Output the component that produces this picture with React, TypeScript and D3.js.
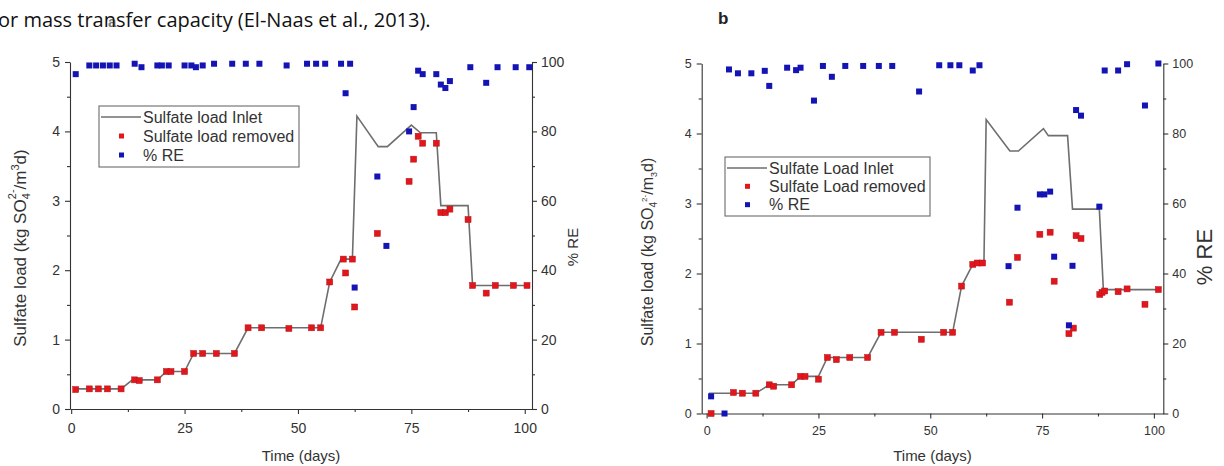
import React, { useEffect, useRef } from "react";
import * as d3 from "d3";

// shared ticks / labels
const xTicks = [0, 25, 50, 75, 100];
const xMinor = [12.5, 37.5, 62.5, 87.5];
const loadTicks = [0, 1, 2, 3, 4, 5];
const loadMinor = [0.5, 1.5, 2.5, 3.5, 4.5];
const reTicks = [0, 20, 40, 60, 80, 100];
const reMinor = [10, 30, 50, 70, 90];
const legendA = ["Sulfate load Inlet", "Sulfate load removed", "% RE"];
const legendB = ["Sulfate Load Inlet", "Sulfate Load removed", "% RE"];

// panel a
const aInletDays = [1, 11, 13.5, 19, 21, 25, 27, 36, 39, 55, 57, 59.5, 62, 63, 67.7, 69.7, 75, 77, 80.5, 81.5, 87.5, 88.5, 101];
const aInletLoad = [0.29, 0.29, 0.42, 0.42, 0.54, 0.54, 0.8, 0.8, 1.17, 1.17, 1.83, 2.16, 2.16, 4.22, 3.78, 3.78, 4.09, 3.98, 3.98, 2.93, 2.93, 1.78, 1.78];
const aRemovedDays = [1, 4, 6, 8, 11, 14, 15, 19, 21, 22, 25, 27, 29, 32, 36, 39, 42, 48, 53, 55, 57, 60, 60.5, 62, 62.5, 67.5, 74.5, 75.5, 76.5, 77.5, 80.5, 81.5, 82.5, 83.5, 87.5, 88.5, 91.5, 93.5, 97.5, 100.5];
const aRemovedLoad = [0.28, 0.29, 0.29, 0.29, 0.29, 0.42, 0.41, 0.42, 0.54, 0.54, 0.54, 0.8, 0.8, 0.8, 0.8, 1.17, 1.17, 1.16, 1.17, 1.17, 1.83, 2.16, 1.96, 2.16, 1.47, 2.53, 3.28, 3.6, 3.93, 3.83, 3.83, 2.83, 2.83, 2.88, 2.73, 1.78, 1.67, 1.78, 1.78, 1.78];
const aReDays = [1, 4, 5.5, 7, 8.5, 10, 14, 15.5, 19, 20, 21.5, 25, 26.5, 27.5, 29, 31.5, 35.5, 38.5, 41.5, 47.5, 52, 54, 56, 59.5, 61.5, 60.5, 62.5, 67.5, 69.5, 74.5, 75.5, 76.5, 77.5, 80.5, 81.5, 82.5, 83.5, 88, 91.5, 94, 98, 101];
const aReValues = [96.5, 99, 99, 99, 99, 99, 99.5, 98.5, 99, 99, 99, 99, 99, 98.5, 99, 99.5, 99.5, 99.5, 99.5, 99, 99.5, 99.5, 99.5, 99.5, 99.5, 91, 35, 67, 47, 80, 87, 97.5, 96.5, 96.5, 93.5, 92.5, 94.5, 98.5, 94, 98.5, 98.5, 98.5];

// panel b
const bInletDays = [0.5, 11, 14, 19, 21, 25, 27, 36, 39, 55, 57, 59.5, 62, 62.5, 67.8, 69.7, 75.3, 76.4, 80.7, 81.8, 87.8, 88.7, 100.6];
const bInletLoad = [0.29, 0.29, 0.41, 0.41, 0.53, 0.53, 0.8, 0.8, 1.16, 1.16, 1.82, 2.13, 2.15, 4.2, 3.75, 3.75, 4.07, 3.97, 3.97, 2.92, 2.92, 1.77, 1.77];
const bRemovedDays = [1, 6, 8, 11, 14, 15, 19, 21, 22, 25, 27, 29, 32, 36, 39, 42, 48, 53, 55, 57, 59.5, 60.5, 61.7, 67.7, 69.5, 74.5, 76.8, 77.7, 81, 82, 82.6, 83.7, 87.9, 88.4, 89, 92, 94, 98, 101];
const bRemovedLoad = [0, 0.3, 0.29, 0.29, 0.41, 0.39, 0.41, 0.53, 0.53, 0.49, 0.8, 0.77, 0.8, 0.8, 1.16, 1.16, 1.06, 1.16, 1.16, 1.82, 2.13, 2.15, 2.15, 1.59, 2.23, 2.56, 2.59, 1.89, 1.14, 1.22, 2.54, 2.5, 1.7, 1.73, 1.75, 1.74, 1.78, 1.56, 1.77];
const bReDays = [1, 4, 5, 7, 10, 13, 14, 18, 20, 21, 24, 26, 28, 31, 35, 38.5, 41.5, 47.5, 52, 54.5, 56.5, 59.5, 61, 67.5, 69.5, 74.5, 75.5, 76.8, 77.7, 81, 81.8, 82.6, 83.7, 87.8, 89, 92, 94, 98, 101];
const bReValues = [4.9, 0, 98.3, 97.2, 97.2, 97.9, 93.6, 98.8, 98.1, 98.8, 89.4, 99.3, 96.2, 99.3, 99.3, 99.3, 99.3, 92, 99.5, 99.5, 99.5, 98, 99.5, 42.1, 58.8, 62.6, 62.6, 63.4, 44.8, 25.2, 42.2, 86.7, 85.1, 59.1, 98, 98, 99.8, 88, 100];

const RED = "#e3161c";
const BLUE = "#1414b4";
const FONT = "'Liberation Sans', Arial, sans-serif";

const panels = [
  {
    id: "a",
    left: 70, right: 532, top: 62, bottom: 409, xDomain: [-0.26, 101.6],
    inlet: [aInletDays, aInletLoad], removed: [aRemovedDays, aRemovedLoad], re: [aReDays, aReValues],
    legend: legendA, legendBox: { x: 99, y: 106, w: 200, h: 61 },
    tickFont: 14, tickPad: 9, labelFont: 15, yLabelFont: 17, yLabelX: 26, yLabelY: 248,
    reFont: 15, reLabelX: 578, reLabelY: 247, subStacked: true,
  },
  {
    id: "b",
    left: 701.7, right: 1163.3, top: 63.5, bottom: 413.5, xDomain: [-1.1, 102.1],
    inlet: [bInletDays, bInletLoad], removed: [bRemovedDays, bRemovedLoad], re: [bReDays, bReValues],
    legend: legendB, legendBox: { x: 725, y: 157, w: 205, h: 59 },
    tickFont: 12.5, tickPad: 8, labelFont: 15, yLabelFont: 16, yLabelX: 653, yLabelY: 252,
    reFont: 22, reLabelX: 1212, reLabelY: 257, subStacked: false,
  },
];

const fmt = (d: any) => String(d);

function drawPanel(svg: any, p: any) {
  const g = svg.append("g");
  const x = d3.scaleLinear().domain(p.xDomain).range([p.left, p.right]);
  const y = d3.scaleLinear().domain([0, 5]).range([p.bottom, p.top]);
  const yr = d3.scaleLinear().domain([0, 100]).range([p.bottom, p.top]);

  const styleAxis = (a: any) => {
    a.selectAll("path, line").attr("stroke", "#333").attr("stroke-width", 1.1);
    a.selectAll("text").attr("fill", "#333").style("font-family", FONT).style("font-size", p.tickFont + "px");
  };

  // x axis
  g.append("g").attr("transform", `translate(0,${p.bottom})`)
    .call(d3.axisBottom(x).tickValues(xTicks).tickFormat(fmt).tickSize(5).tickSizeOuter(0).tickPadding(p.tickPad))
    .call(styleAxis);
  g.append("g").attr("transform", `translate(0,${p.bottom})`)
    .call(d3.axisBottom(x).tickValues(xMinor).tickSize(3).tickFormat(() => ""))
    .call((a: any) => a.select(".domain").remove())
    .call(styleAxis);

  // left axis
  g.append("g").attr("transform", `translate(${p.left},0)`)
    .call(d3.axisLeft(y).tickValues(loadTicks).tickFormat(fmt).tickSize(5).tickSizeOuter(0).tickPadding(5))
    .call(styleAxis);
  g.append("g").attr("transform", `translate(${p.left},0)`)
    .call(d3.axisLeft(y).tickValues(loadMinor).tickSize(3).tickFormat(() => ""))
    .call((a: any) => a.select(".domain").remove())
    .call(styleAxis);

  // right axis
  g.append("g").attr("transform", `translate(${p.right},0)`)
    .call(d3.axisRight(yr).tickValues(reTicks).tickFormat(fmt).tickSize(5).tickSizeOuter(0).tickPadding(4))
    .call(styleAxis);
  g.append("g").attr("transform", `translate(${p.right},0)`)
    .call(d3.axisRight(yr).tickValues(reMinor).tickSize(3).tickFormat(() => ""))
    .call((a: any) => a.select(".domain").remove())
    .call(styleAxis);

  // axis titles
  g.append("text").attr("x", (p.left + p.right) / 2).attr("y", 461)
    .attr("text-anchor", "middle").style("font-family", FONT).style("font-size", p.labelFont + "px")
    .attr("fill", "#333").text("Time (days)");

  const yl = g.append("text")
    .attr("transform", `translate(${p.yLabelX},${p.yLabelY}) rotate(-90)`)
    .attr("text-anchor", "middle").style("font-family", FONT).style("font-size", p.yLabelFont + "px")
    .attr("fill", "#333");
  yl.append("tspan").text("Sulfate load (kg SO");
  if (p.subStacked) {
    yl.append("tspan").attr("dy", 4).style("font-size", "11px").text("4");
    yl.append("tspan").attr("dy", -14).attr("dx", -6).style("font-size", "11px").text("2-");
    yl.append("tspan").attr("dy", 10).text("/m");
    yl.append("tspan").attr("dy", -7).style("font-size", "11px").text("3");
    yl.append("tspan").attr("dy", 7).text("d)");
  } else {
    yl.append("tspan").attr("dy", 4).style("font-size", "10px").text("4");
    yl.append("tspan").attr("dy", -10).style("font-size", "8px").text("2-");
    yl.append("tspan").attr("dy", 6).text("/m");
    yl.append("tspan").attr("dy", 4).style("font-size", "9px").text("3");
    yl.append("tspan").attr("dy", -4).text("d)");
  }

  g.append("text")
    .attr("transform", `translate(${p.reLabelX},${p.reLabelY}) rotate(-90)`)
    .attr("text-anchor", "middle").style("font-family", FONT).style("font-size", p.reFont + "px")
    .attr("fill", "#333").text("% RE");

  // inlet line
  const inlet = d3.zip(p.inlet[0], p.inlet[1]);
  g.append("path").datum(inlet)
    .attr("d", d3.line().x((d: any) => x(d[0])).y((d: any) => y(d[1])))
    .attr("fill", "none").attr("stroke", "#6e6e6e").attr("stroke-width", 1.6);

  const s = 6;
  g.append("g").selectAll("rect").data(d3.zip(p.removed[0], p.removed[1])).enter().append("rect")
    .attr("x", (d: any) => x(d[0]) - s / 2).attr("y", (d: any) => y(d[1]) - s / 2)
    .attr("width", s).attr("height", s).attr("fill", RED).attr("stroke", "#b0151a").attr("stroke-width", 0.5);
  g.append("g").selectAll("rect").data(d3.zip(p.re[0], p.re[1])).enter().append("rect")
    .attr("x", (d: any) => x(d[0]) - s / 2).attr("y", (d: any) => yr(d[1]) - s / 2)
    .attr("width", s).attr("height", s).attr("fill", BLUE);

  // legend
  const b = p.legendBox;
  const lg = g.append("g");
  lg.append("rect").attr("x", b.x).attr("y", b.y).attr("width", b.w).attr("height", b.h)
    .attr("fill", "white").attr("stroke", "#777").attr("stroke-width", 1.2);
  const rowH = (b.h - 4) / 3;
  p.legend.forEach((label: string, i: number) => {
    const cy = b.y + 11 + i * rowH;
    if (i === 0) {
      lg.append("line").attr("x1", b.x + 2).attr("x2", b.x + 42).attr("y1", cy).attr("y2", cy)
        .attr("stroke", "#6e6e6e").attr("stroke-width", 1.6);
    } else {
      lg.append("rect").attr("x", b.x + 20).attr("y", cy - 2.5).attr("width", 5).attr("height", 5)
        .attr("fill", i === 1 ? RED : BLUE);
    }
    lg.append("text").attr("x", b.x + 44).attr("y", cy + 5.5)
      .style("font-family", FONT).style("font-size", "16px").attr("fill", "#333").text(label);
  });
}

const App = () => {
  const ref = useRef<SVGSVGElement>(null);
  useEffect(() => {
    const svg = d3.select(ref.current);
    svg.selectAll("*").remove();
    svg.append("rect").attr("width", 1224).attr("height", 466).attr("fill", "white");
    // caption line cut from the page above the figure
    svg.append("text").attr("x", -2).attr("y", 27)
      .style("font-family", "'Open Sans', 'Noto Sans', sans-serif").style("font-size", "20px")
      .attr("fill", "#111").text("or mass transfer capacity (El-Naas et al., 2013).");
    svg.append("text").attr("x", 108).attr("y", 27)
      .style("font-family", FONT).style("font-size", "15px").style("font-weight", "bold")
      .attr("fill", "#222").attr("opacity", 0.6).text("a");
    svg.append("text").attr("x", 718).attr("y", 24)
      .style("font-family", FONT).style("font-size", "17px").style("font-weight", "bold")
      .attr("fill", "#222").text("b");
    panels.forEach((p) => drawPanel(svg, p));
  }, []);

  return (
    <svg ref={ref} width={1224} height={466}
      style={{ position: "absolute", left: 0, top: 0, background: "white" }} />
  );
};

export default App;
